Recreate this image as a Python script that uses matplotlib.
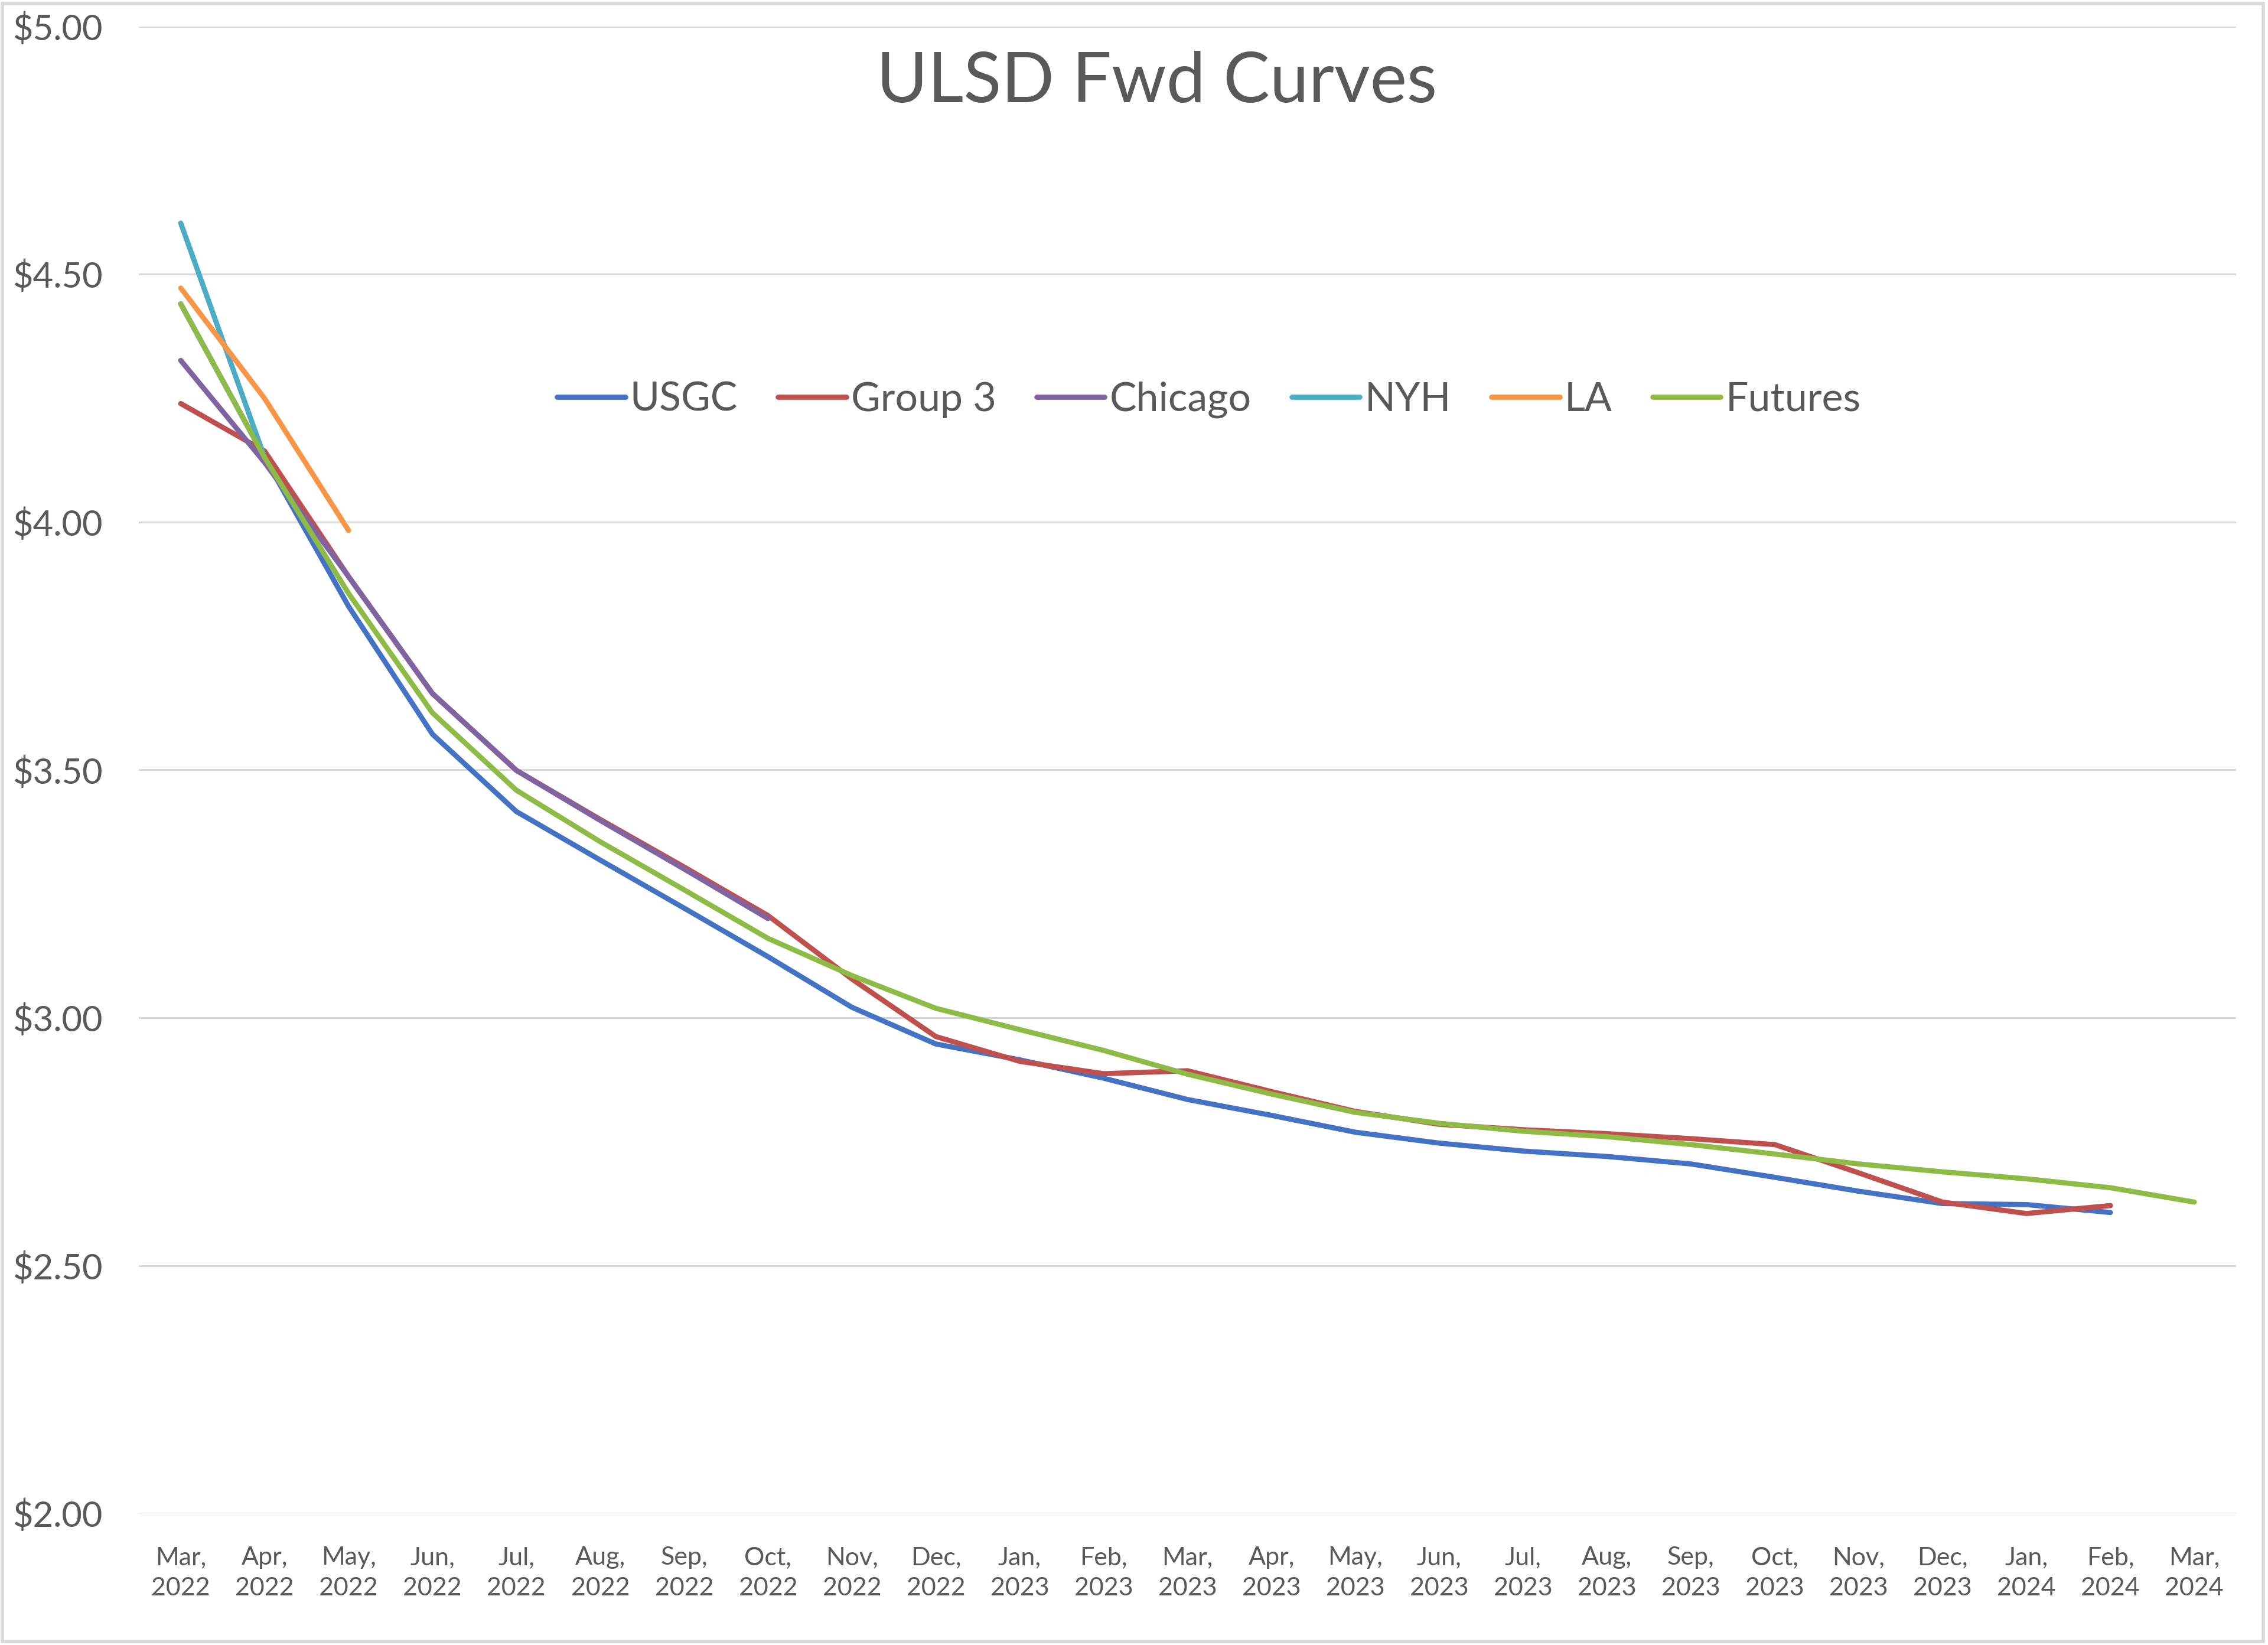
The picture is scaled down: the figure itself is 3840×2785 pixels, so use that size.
import numpy as np
import matplotlib
matplotlib.use('Agg')
import matplotlib.pyplot as plt
from matplotlib.patches import Rectangle

plt.rcParams.update({
    'font.family': ['Lato', 'DejaVu Sans'],
})
TEXT = '#595959'
GRID = '#D9D9D9'
nan = np.nan

# ---------------------------------------------------------------
# data
# ---------------------------------------------------------------
months = ['Mar', 'Apr', 'May', 'Jun', 'Jul', 'Aug', 'Sep', 'Oct', 'Nov',
          'Dec', 'Jan', 'Feb', 'Mar', 'Apr', 'May', 'Jun', 'Jul', 'Aug',
          'Sep', 'Oct', 'Nov', 'Dec', 'Jan', 'Feb', 'Mar']
years = ['2022'] * 10 + ['2023'] * 12 + ['2024'] * 3

usgc = [4.44, 4.13, 3.83, 3.572, 3.416, 3.318, 3.221, 3.123, 3.021,
        2.947, 2.915, 2.878, 2.835, 2.803, 2.769, 2.747, 2.731, 2.72,
        2.705, 2.678, 2.650, 2.625, 2.623, 2.607, nan]
group3 = [4.239, 4.143, 3.89, 3.654, 3.499, 3.40, 3.304, 3.206, 3.078,
          2.962, 2.912, 2.887, 2.893, 2.851, 2.811, 2.785, 2.774, 2.766,
          2.756, 2.744, 2.687, 2.628, 2.605, 2.621, nan]
chicago = [4.326, 4.12, 3.89, 3.654, 3.499, 3.398, 3.300, 3.200] + [nan] * 17
nyh = [4.603, 4.13] + [nan] * 23
la = [4.472, 4.249, 3.983] + [nan] * 22
futures = [4.44, 4.13, 3.856, 3.615, 3.459, 3.355, 3.258, 3.16, 3.085,
           3.019, 2.976, 2.934, 2.886, 2.846, 2.809, 2.787, 2.771, 2.76,
           2.744, 2.725, 2.705, 2.689, 2.675, 2.657, 2.628]

series = [
    ('USGC',    usgc,    '#4472C4'),
    ('Group 3', group3,  '#C0504D'),
    ('Chicago', chicago, '#8064A2'),
    ('NYH',     nyh,     '#4BACC6'),
    ('LA',      la,      '#F79646'),
    ('Futures', futures, '#8DBB45'),
]

# ---------------------------------------------------------------
# figure
# ---------------------------------------------------------------
fig = plt.figure(figsize=(38.4, 27.85), dpi=100)
ax = fig.add_axes([0.0612, 0.080, 0.9248, 0.904])

x = np.arange(len(months))
for name, vals, color in series:
    ax.plot(x, vals, color=color, lw=6.3, label=name,
            solid_joinstyle='round', solid_capstyle='round')

ax.set_xlim(-0.5, len(months) - 0.5)
ax.set_ylim(2.0, 5.0)
ax.set_yticks(np.arange(2.0, 5.01, 0.5))
ax.set_yticklabels([f'${v:.2f}' for v in np.arange(2.0, 5.01, 0.5)])
ax.set_xticks(x)
ax.set_xticklabels([f'{m},\n{y}' for m, y in zip(months, years)],
                   linespacing=1.45)

ax.grid(axis='y', color=GRID, lw=2.2)
ax.set_axisbelow(True)
for s in ax.spines.values():
    s.set_visible(False)
ax.tick_params(axis='y', length=0, pad=44, labelsize=43, labelcolor=TEXT)
ax.tick_params(axis='x', length=0, pad=40, labelsize=31, labelcolor=TEXT)

fig.text(0.510, 0.950, 'ULSD Fwd Curves', ha='center', va='center',
         fontsize=85, color=TEXT)

fig.legend(loc='center', bbox_to_anchor=(0.533, 0.757), ncol=6,
           frameon=False, fontsize=49, handlelength=1.7,
           handletextpad=0.12, columnspacing=1.0, labelcolor=TEXT)

fig.patches.append(Rectangle((0.001, 0.002), 0.997, 0.996,
                             transform=fig.transFigure, fill=False,
                             edgecolor=GRID, lw=4))

fig.savefig('out.png', dpi=100)
